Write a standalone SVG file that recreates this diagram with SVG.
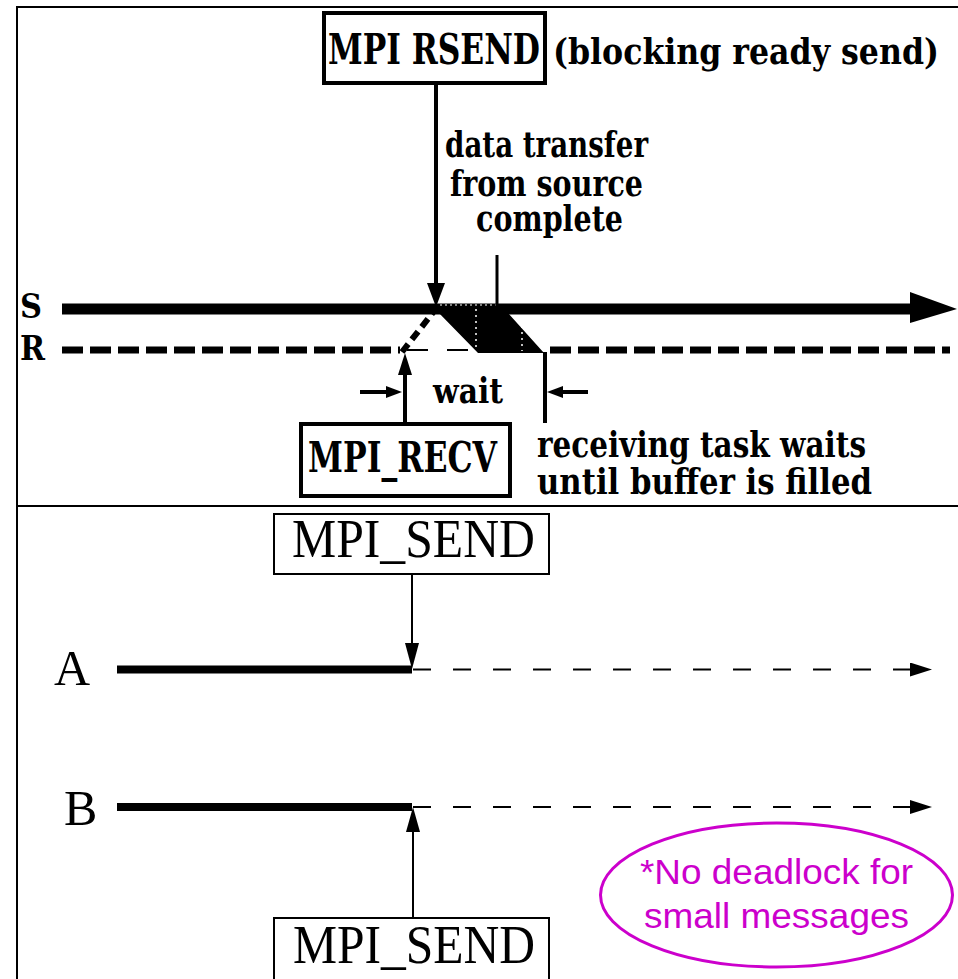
<svg xmlns="http://www.w3.org/2000/svg" width="958" height="979" viewBox="0 0 958 979">
  <style>
    .bold { font-family: "DejaVu Serif", "Liberation Serif", serif; font-weight: bold; fill: #000; }
    .plain { font-family: "Liberation Serif", "Times New Roman", serif; fill: #000; }
    .note { font-family: "Liberation Sans", Arial, sans-serif; fill: #CC00CC; }
    .frame { stroke: #000; stroke-width: 2; fill: none; }
    .boxB { fill: #fff; stroke: #000; stroke-width: 4; }
    .boxT { fill: #fff; stroke: #000; stroke-width: 2; }
  </style>
  <defs>
    <marker id="ahThin" viewBox="0 0 22 14" refX="22" refY="7" markerWidth="22" markerHeight="14" markerUnits="userSpaceOnUse" orient="auto">
      <path d="M0,0 L22,7 L0,14 Z" fill="#000"/>
    </marker>
  </defs>
  <rect width="958" height="979" fill="#fff"/>

  <!-- frame and section divider -->
  <g id="frame">
    <line class="frame" x1="17" y1="7" x2="958" y2="7"/>
    <line class="frame" x1="17" y1="6" x2="17" y2="979"/>
    <line class="frame" x1="17" y1="506" x2="958" y2="506" stroke-width="3"/>
  </g>

  <!-- ===== upper panel: ready send ===== -->
  <g id="timeline-S">
    <text class="bold" x="20" y="318" font-size="34" textLength="22" lengthAdjust="spacingAndGlyphs">S</text>
    <line x1="62" y1="309" x2="912" y2="309" stroke="#000" stroke-width="11"/>
    <path d="M910,292 L957,309 L910,323 Z" fill="#000"/>
  </g>
  <g id="timeline-R">
    <text class="bold" x="20" y="360" font-size="34" textLength="25" lengthAdjust="spacingAndGlyphs">R</text>
    <line x1="62" y1="350" x2="400" y2="350" stroke="#000" stroke-width="7" stroke-dasharray="21 7"/>
    <line x1="407" y1="350" x2="478" y2="350" stroke="#000" stroke-width="2" stroke-dasharray="21 19"/>
    <line x1="550" y1="350" x2="950" y2="350" stroke="#000" stroke-width="7" stroke-dasharray="21 7"/>
  </g>

  <g id="transfer">
    <polygon points="436,305 502,305 508,313 544,353 478,353 436,310" fill="#000"/>
    <line x1="476" y1="309" x2="476" y2="351" stroke="#fff" stroke-width="1.5" stroke-dasharray="2 4"/>
    <line x1="522" y1="320" x2="522" y2="351" stroke="#fff" stroke-width="1.5" stroke-dasharray="2 4"/>
    <line x1="440" y1="305" x2="496" y2="305" stroke="#fff" stroke-width="1" stroke-dasharray="2 3"/>
    <line x1="402" y1="352" x2="435" y2="310" stroke="#000" stroke-width="6" stroke-dasharray="10 6"/>
  </g>

  <g id="rsend">
    <rect class="boxB" x="324" y="13" width="221" height="70"/>
    <text class="bold" x="328" y="64" font-size="43" textLength="212" lengthAdjust="spacingAndGlyphs">MPI RSEND</text>
    <text class="bold" x="553" y="64" font-size="35" textLength="386" lengthAdjust="spacingAndGlyphs">(blocking ready send)</text>
  </g>

  <g id="recv">
    <rect class="boxB" x="301" y="424" width="209" height="72"/>
    <text class="bold" x="308" y="472" font-size="42" textLength="189" lengthAdjust="spacingAndGlyphs">MPI_RECV</text>
  </g>

  <g id="labels-upper">
    <text class="bold" x="445" y="157" font-size="35" textLength="203" lengthAdjust="spacingAndGlyphs">data transfer</text>
    <text class="bold" x="450" y="196" font-size="35" textLength="193" lengthAdjust="spacingAndGlyphs">from source</text>
    <text class="bold" x="476" y="231" font-size="35" textLength="147" lengthAdjust="spacingAndGlyphs">complete</text>
    <text class="bold" x="433" y="403" font-size="36" textLength="70" lengthAdjust="spacingAndGlyphs">wait</text>
    <text class="bold" x="537" y="457" font-size="35" textLength="329" lengthAdjust="spacingAndGlyphs">receiving task waits</text>
    <text class="bold" x="537" y="494" font-size="35" textLength="335" lengthAdjust="spacingAndGlyphs">until buffer is filled</text>
  </g>

  <g id="connectors-upper" stroke="#000" fill="none">
    <!-- send call down to S -->
    <line x1="436" y1="83" x2="436" y2="290" stroke-width="4"/>
    <path d="M427,283 L445,283 L436,307 Z" fill="#000" stroke="none"/>
    <!-- completion tick -->
    <line x1="497" y1="255" x2="497" y2="306" stroke-width="3"/>
    <!-- receive call up to R -->
    <line x1="405" y1="424" x2="405" y2="370" stroke-width="4"/>
    <path d="M398,375 L412,375 L405,353 Z" fill="#000" stroke="none"/>
    <!-- end of wait -->
    <line x1="545" y1="352" x2="545" y2="423" stroke-width="4"/>
    <!-- wait span arrows -->
    <line x1="360" y1="392" x2="390" y2="392" stroke-width="4"/>
    <path d="M386,386 L402,392 L386,398 Z" fill="#000" stroke="none"/>
    <line x1="588" y1="392" x2="558" y2="392" stroke-width="4"/>
    <path d="M563,386 L547,392 L563,398 Z" fill="#000" stroke="none"/>
  </g>

  <!-- ===== lower panel: standard send ===== -->
  <g id="proc-A">
    <text class="plain" x="54" y="685" font-size="50">A</text>
    <line x1="117" y1="669.5" x2="412" y2="669.5" stroke="#000" stroke-width="8"/>
    <line x1="413" y1="669.5" x2="932" y2="669.5" stroke="#000" stroke-width="2" stroke-dasharray="18 22" marker-end="url(#ahThin)"/>
  </g>
  <g id="proc-B">
    <text class="plain" x="64" y="825" font-size="50">B</text>
    <line x1="117" y1="807" x2="412" y2="807" stroke="#000" stroke-width="8"/>
    <line x1="413" y1="807" x2="932" y2="807" stroke="#000" stroke-width="2" stroke-dasharray="18 22" marker-end="url(#ahThin)"/>
  </g>

  <g id="send-A">
    <rect class="boxT" x="274" y="514" width="275" height="60"/>
    <text class="plain" x="292" y="557" font-size="54" textLength="243" lengthAdjust="spacingAndGlyphs">MPI_SEND</text>
  </g>
  <g id="send-B">
    <rect class="boxT" x="274" y="918" width="275" height="70"/>
    <text class="plain" x="293" y="963" font-size="54" textLength="242" lengthAdjust="spacingAndGlyphs">MPI_SEND</text>
  </g>

  <g id="connectors-lower" stroke="#000" fill="none" stroke-width="2">
    <line x1="412" y1="574" x2="412" y2="650"/>
    <path d="M405,643 L419,643 L412,669 Z" fill="#000" stroke="none"/>
    <line x1="413" y1="918" x2="413" y2="825"/>
    <path d="M406,832 L420,832 L413,807 Z" fill="#000" stroke="none"/>
  </g>

  <g id="note">
    <ellipse cx="776.5" cy="895" rx="176" ry="72" fill="none" stroke="#CC00CC" stroke-width="3"/>
    <text class="note" x="776.5" y="884" font-size="35" text-anchor="middle" textLength="273" lengthAdjust="spacingAndGlyphs">*No deadlock for</text>
    <text class="note" x="776.5" y="928" font-size="35" text-anchor="middle" textLength="265" lengthAdjust="spacingAndGlyphs">small messages</text>
  </g>
</svg>
